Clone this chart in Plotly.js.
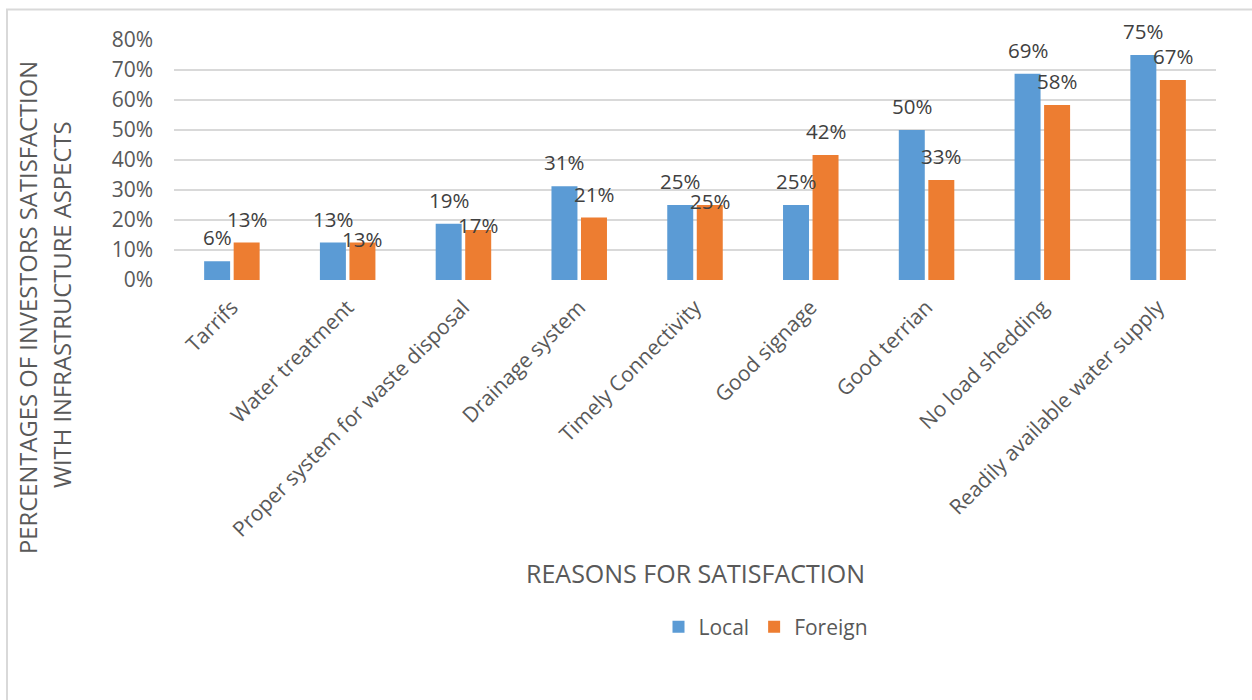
<!DOCTYPE html>
<html>
<head>
<meta charset="utf-8">
<script src="https://cdn.plot.ly/plotly-3.0.1.min.js"></script>
<style>
  html, body { margin: 0; padding: 0; background: #ffffff; }
  #chart { width: 1252px; height: 700px; }
</style>
</head>
<body>
<div id="chart"></div>
<script>
// ---- data ----
const categories = [
  "Tarrifs",
  "Water treatment",
  "Proper system for waste disposal",
  "Drainage system",
  "Timely Connectivity",
  "Good signage",
  "Good terrian",
  "No load shedding",
  "Readily available water supply"
];
const localValues   = [6.25, 12.5, 18.75, 31.25, 25, 25, 50, 68.75, 75];
const foreignValues = [12.5, 12.5, 16.67, 20.83, 25, 41.67, 33.33, 58.33, 66.67];
const seriesNames = ["Local", "Foreign"];
const yTickValues = [0, 10, 20, 30, 40, 50, 60, 70, 80];

// ---- style / layout constants ----
const colors = ["#5B9BD5", "#ED7D31"];
const FONT = "'Open Sans', 'Noto Sans', sans-serif";
const W = 1252, H = 700;
const plotL = 174, plotR = 1216, plotT = 40, plotB = 280;
const bargap = 0.49, bargroupgap = 0.12;
// vertical lift (px) of each data label above its bar top
const localLift   = [24, 24, 24, 24, 24, 24, 24, 24, 24];
const foreignLift = [24, 4, 5, 24, 4, 24, 24, 24, 24];

const px2x = px => (px - plotL) / (plotR - plotL);
const px2y = py => (plotB - py) / (plotB - plotT);

const traces = [localValues, foreignValues].map((vals, i) => ({
  type: "bar",
  name: seriesNames[i],
  x: categories,
  y: vals,
  marker: { color: colors[i] },
  hoverinfo: "x+y"
}));

// data labels
const annotations = [];
const slot = (1 - bargap) / 2;
[localValues, foreignValues].forEach((vals, s) => {
  const lift = s === 0 ? localLift : foreignLift;
  const off = (s === 0 ? -1 : 1) * slot / 2;
  vals.forEach((v, i) => {
    annotations.push({
      x: i + off, y: v, xref: "x", yref: "y",
      text: Math.round(v) + "%",
      showarrow: false, xanchor: "center", yanchor: "middle",
      yshift: lift[i],
      font: { family: FONT, size: 20.5, color: "#404040" }
    });
  });
});

// axis titles as annotations
annotations.push({
  xref: "paper", yref: "paper", x: px2x(695), y: px2y(573),
  text: "REASONS FOR SATISFACTION", showarrow: false,
  xanchor: "center", yanchor: "middle",
  font: { family: FONT, size: 25, color: "#595959" }
});
annotations.push({
  xref: "paper", yref: "paper", x: px2x(28), y: px2y(308),
  text: "PERCENTAGES OF INVESTORS SATISFACTION", showarrow: false,
  textangle: -90, xanchor: "center", yanchor: "middle",
  font: { family: FONT, size: 23.8, color: "#595959" }
});
annotations.push({
  xref: "paper", yref: "paper", x: px2x(62), y: px2y(305),
  text: "WITH INFRASTRUCTURE ASPECTS", showarrow: false,
  textangle: -90, xanchor: "center", yanchor: "middle",
  font: { family: FONT, size: 23.8, color: "#595959" }
});

const layout = {
  width: W, height: H,
  margin: { l: plotL, r: W - plotR, t: plotT, b: H - plotB },
  paper_bgcolor: "#ffffff", plot_bgcolor: "#ffffff",
  barmode: "group", bargap: bargap, bargroupgap: bargroupgap,
  font: { family: FONT, size: 20, color: "#595959" },
  xaxis: {
    type: "category",
    tickangle: -45,
    showgrid: false, zeroline: false, showline: false,
    ticks: "",
    ticklabelstandoff: 10,
    tickfont: { family: FONT, size: 21, color: "#595959" }
  },
  yaxis: {
    range: [0, 80],
    tickvals: yTickValues,
    ticktext: yTickValues.map(v => v + "%"),
    showgrid: true, gridcolor: "#d9d9d9", gridwidth: 2,
    zeroline: false, showline: false, ticks: "",
    ticklabelstandoff: 20,
    tickfont: { family: FONT, size: 21, color: "#595959" }
  },
  showlegend: true,
  legend: {
    orientation: "h",
    x: px2x(766), y: px2y(627),
    xanchor: "center", yanchor: "middle",
    font: { family: FONT, size: 21, color: "#595959" },
    traceorder: "normal"
  },
  annotations: annotations,
  shapes: [{
    type: "rect", xref: "paper", yref: "paper",
    x0: px2x(7), x1: px2x(1300), y0: px2y(760), y1: px2y(9.5),
    line: { color: "#d9d9d9", width: 2 }, fillcolor: "rgba(0,0,0,0)",
    layer: "below"
  }]
};

Plotly.newPlot("chart", traces, layout, { displayModeBar: false, staticPlot: true });
</script>
</body>
</html>
